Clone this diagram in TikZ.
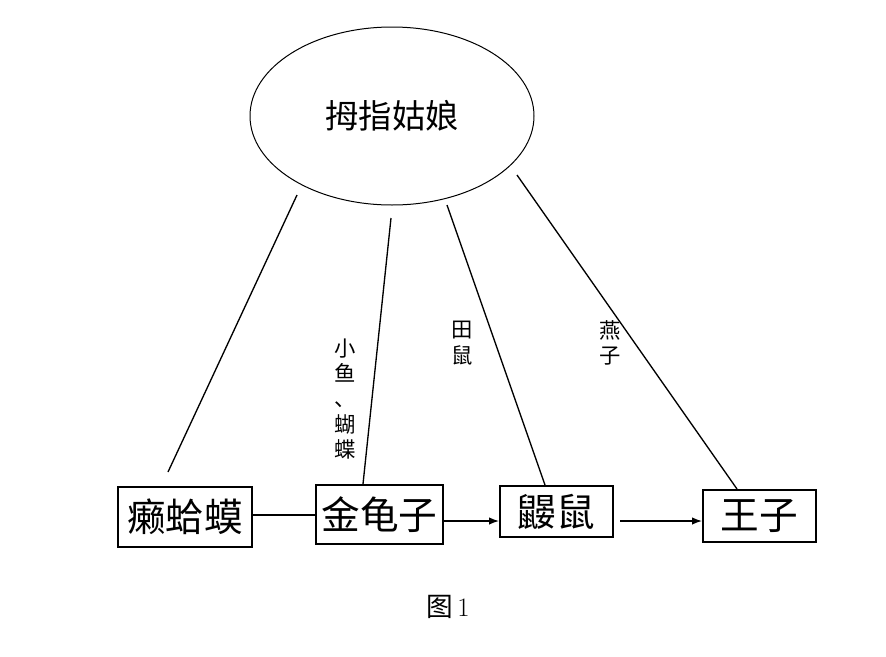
\documentclass[tikz,border=0pt]{standalone}
\usepackage{fontspec}
\usepackage{xcolor}
\usetikzlibrary{shapes.geometric, arrows.meta, positioning, calc}
\newfontfamily\cjk{Noto Sans CJK SC}

\begin{document}
\begin{tikzpicture}[>=Latex, x=0.75pt, y=-0.75pt,
    role/.style={draw, line width=1.5pt, inner sep=0pt, font=\cjk\fontsize{29}{32}\selectfont},
    helper/.style={font=\cjk\fontsize{16}{19}\selectfont, align=center, inner sep=0pt},
    link/.style={line width=1pt}]
    \useasboundingbox (0,0) rectangle (886,657);

    % Thumbelina
    \node[ellipse, draw, line width=0.75pt, minimum width=213pt, minimum height=133.5pt, inner sep=0pt,
          font=\cjk\fontsize{25}{28}\selectfont] (girl) at (392,116) {拇指姑娘};

    % Chain of suitors
    \node[role, minimum width=100.5pt, minimum height=45pt] (toad) at (185,517) {癞蛤蟆};
    \node[role, minimum width=95.25pt, minimum height=44.25pt] (beetle) at (379.5,514.5) {金龟子};
    \node[role, minimum width=84.75pt, minimum height=38.25pt] (mole) at (556.5,511.5) {鼹鼠};
    \node[role, minimum width=84.75pt, minimum height=39pt] (prince) at (759.5,516) {王子};

    \draw[link] (toad.east |- 0,515) -- (beetle.west |- 0,515);
    \draw[link, ->] (beetle.east |- 0,521) -- (mole.west |- 0,521);
    \coordinate (m1) at (620,521);
    \draw[link, ->] (m1) -- (prince.west |- 0,521);

    % Helpers from the girl
    \coordinate (g1) at (297,195);
    \coordinate (t1) at (168,472);
    \coordinate (g2) at (391,218);
    \coordinate (g3) at (447,205);
    \coordinate (g4) at (517,175);
    \draw[link] (g1) -- (t1);
    \draw[link] (g2) -- (beetle.north -| 363,0);
    \draw[link] (g3) -- (mole.north -| 545,0);
    \draw[link] (g4) -- (prince.north -| 737,0);

    \node[helper] (fish) at (345,399) {小\\鱼\\、\\蝴\\蝶};
    \node[helper] (vole) at (462,343) {田\\鼠};
    \node[helper] (swallow) at (610,343) {燕\\子};

    % Caption
    \node[font=\cjk\fontsize{20}{22}\selectfont] (cap) at (448,607) {图\,{\rmfamily 1}};
\end{tikzpicture}
\end{document}
